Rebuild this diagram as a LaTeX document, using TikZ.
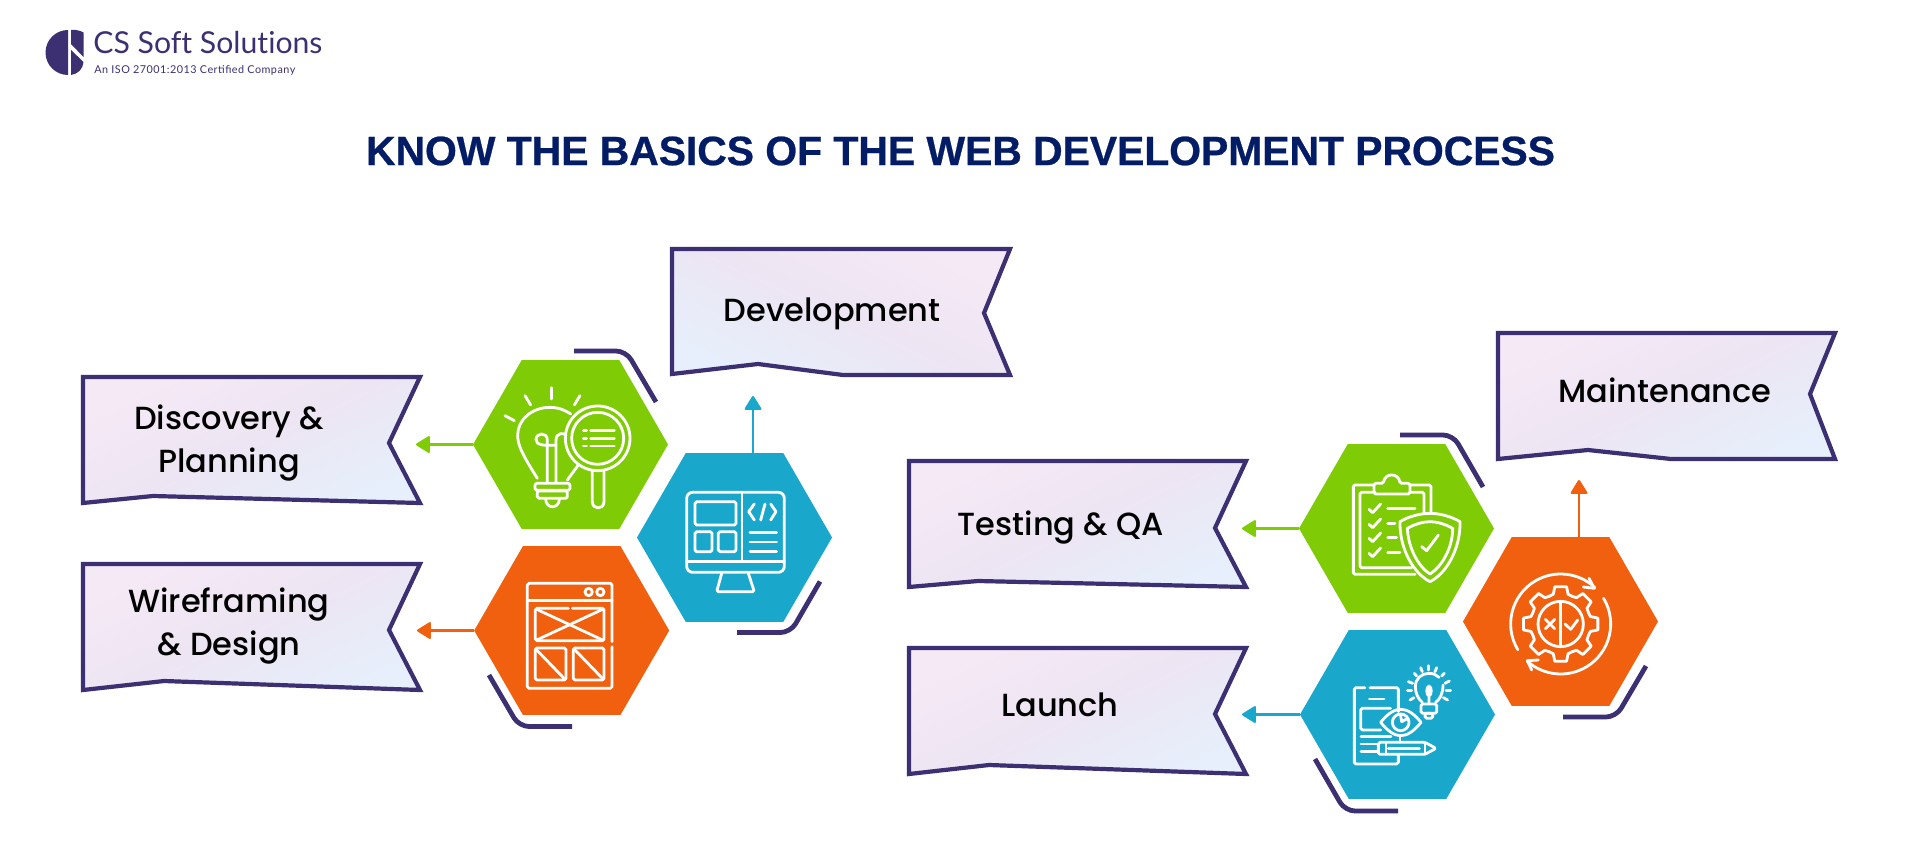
\documentclass[tikz,border=0pt]{standalone}
\usepackage{fontspec}
\usetikzlibrary{shapes.geometric,arrows.meta}
\setmainfont{Poppins}[UprightFont=* Medium,BoldFont=* Bold]
\newfontfamily\titlefont{Liberation Sans}[UprightFont=* Bold,LetterSpace=-0.3,FakeBold=0.6]
\newfontfamily\logofont{Lato}[Ligatures=NoCommon]
\newfontfamily\logotagfont{Lato}[LetterSpace=4.5]
\definecolor{brand}{HTML}{3C3072}
\definecolor{navy}{HTML}{021C66}
\definecolor{hgreen}{HTML}{7FCB05}
\definecolor{hblue}{HTML}{19A8CC}
\definecolor{horange}{HTML}{F0600E}
\definecolor{pinkish}{HTML}{F6E9F6}
\definecolor{midish}{HTML}{EDE5F3}
\definecolor{blueish}{HTML}{E6EFFB}
\tikzset{
 hexa/.style={regular polygon,regular polygon sides=6,minimum size=97.5pt,inner sep=0pt,outer sep=0pt,draw=none},
 ribbon/.style={draw=brand,line width=2.1pt,miter limit=10,top color=pinkish,bottom color=blueish,middle color=midish,shading angle=#1},
 ribbon/.default=25,
 label/.style={font=\fontsize{16}{21.5}\selectfont,align=center,text=black,inner sep=0pt},
 bracket/.style={draw=brand,line width=2.4pt,rounded corners=5pt},
 conn/.style={line width=1.1pt,-{Triangle[length=7.5pt,width=9pt,round,sep=0pt]}},
 ic/.style={draw=white,line width=1.4pt,line cap=round,line join=round,rounded corners=0.8pt},
 icn/.style={draw=white,line width=1.4pt,line cap=round,line join=round}
}
\begin{document}
\begin{tikzpicture}[x=0.5pt,y=-0.5pt]
\useasboundingbox[fill=white] (0,0) rectangle (1920,866);
% logo
\fill[brand] (68,30) arc[start angle=270,end angle=90,radius=22.5] -- cycle;
\fill[brand] (71,30) -- (76,30) .. controls (79,30.5) and (81.5,31.2) .. (83.5,32.5) -- (83.5,57) -- (71,44) -- cycle;
\fill[brand] (71,50) -- (83.5,62) .. controls (83,69) and (78,74) .. (71,75) -- cycle;
\node[font=\logofont\fontsize{15.1}{18}\selectfont,text=brand,anchor=west,inner sep=0pt] (logoname) at (93,43) {CS Soft Solutions};
\node[font=\logotagfont\fontsize{5.4}{7}\selectfont,text=brand,anchor=west,inner sep=0pt] (logotag) at (94,70.5) {An ISO 27001:2013 Certified Company};
% title
\node[font=\titlefont\fontsize{20.5}{25}\selectfont,text=navy,inner sep=0pt] (title) at (960.5,151) {KNOW THE BASICS OF THE WEB DEVELOPMENT PROCESS};
% ribbons
\path[ribbon=25] (83,377) -- (420,377) -- (389,443) -- (420,503) -- (153,496) -- (83,503) -- cycle;
\path[ribbon=25] (83,564) -- (420,564) -- (389,630) -- (420,690) -- (164,681) -- (83,690) -- cycle;
\path[ribbon=-25] (672,249) -- (1010,249) -- (984,313) -- (1010,375) -- (843,375) -- (758,364) -- (672,374) -- cycle;
\path[ribbon=25] (909,461) -- (1246,461) -- (1215,528) -- (1246,587) -- (978,581) -- (909,587) -- cycle;
\path[ribbon=25] (909,648) -- (1246,648) -- (1215,714) -- (1246,774) -- (989,765) -- (909,774) -- cycle;
\path[ribbon=25] (1498,333) -- (1835,333) -- (1810,394) -- (1835,459) -- (1671,459) -- (1588,450) -- (1498,459) -- cycle;
% labels
\node[label] (l1) at (229,443.5) {Discovery \&\\Planning};
\node[label] (l2) at (229,625.5) {Wireframing\\\& Design};
\node[label] (l3) at (832,313.5) {Development};
\node[label] (l4) at (1061,527.5) {Testing \& QA};
\node[label] (l5) at (1060,705) {Launch};
\node[label] (l6) at (1665,390) {Maintenance};
% hexagons
\node[hexa,fill=hgreen] (h1) at (570.5,444.5) {};
\node[hexa,fill=horange] (h2) at (571.7,630.5) {};
\node[hexa,fill=hblue] (h3) at (734.5,537.5) {};
\node[hexa,fill=hgreen] (h4) at (1396.5,528.5) {};
\node[hexa,fill=horange] (h5) at (1560.5,621.5) {};
\node[hexa,fill=hblue] (h6) at (1397.5,714.5) {};
% connector ends
\coordinate (e1) at (416,444.5);
\coordinate (e2) at (417,630.5);
\coordinate (e3) at (753,396);
\coordinate (e4) at (1242,528.5);
\coordinate (e5) at (1579,480);
\coordinate (e6) at (1242,714.5);
\draw[conn,draw=hgreen,fill=hgreen] (h1.west) -- (e1);
\draw[conn,draw=horange,fill=horange] (h2.west) -- (e2);
\draw[conn,draw=hblue,fill=hblue] (h3.north -| e3) -- (e3);
\draw[conn,draw=hgreen,fill=hgreen] (h4.west) -- (e4);
\draw[conn,draw=horange,fill=horange] (h5.north -| e5) -- (e5);
\draw[conn,draw=hblue,fill=hblue] (h6.west) -- (e6);
% brackets
\draw[bracket] (574,351) -- (626,351) -- (656,402);
\draw[bracket] (489,675) -- (519,726.5) -- (572,726.5);
\draw[bracket] (737,632.5) -- (790.5,632.5) -- (820,581.5);
\draw[bracket] (1400,435) -- (1453,435) -- (1483,487);
\draw[bracket] (1563,717) -- (1616,717) -- (1646,666);
\draw[bracket] (1315,759) -- (1345,811) -- (1398,811);
% icon 1: bulb and magnifier
\begin{scope}[shift={(480,350)},scale=1/3]
\draw[icn] (272,192) .. controls (250,177) and (230,172) .. (210,172) .. controls (155,172) and (113,210) .. (113,255) .. controls (113,285) and (125,310) .. (172,385);
\draw[icn] (262,390) -- (295,345);
\draw[ic] (165,400) -- (270,400) -- (270,421) -- (165,421) -- cycle;
\draw[ic] (172,423) -- (262,423) -- (262,445) -- (172,445) -- cycle;
\draw[icn] (197,447) .. controls (197,478) and (238,478) .. (238,447);
\draw[icn] (202,395) -- (202,270) .. controls (202,245) and (168,248) .. (168,268) .. controls (168,285) and (190,288) .. (228,285);
\draw[icn] (228,395) -- (228,270) .. controls (228,248) and (250,248) .. (258,255);
\draw[icn] (353,265) circle[radius=97];
\draw[icn] (353,265) circle[radius=78];
\draw[icn] (337,362) -- (337,455) .. controls (337,480) and (372,480) .. (372,455) -- (372,362);
\foreach \yy in {242,265,288}{\draw[icn] (310,\yy) -- (320,\yy); \draw[icn] (332,\yy) -- (403,\yy);}
\draw[icn] (215,113) -- (215,147);
\draw[icn] (135,137) -- (152,165);
\draw[icn] (300,137) -- (283,165);
\draw[icn] (75,197) -- (103,212);
\end{scope}
% icon 2: wireframe
\begin{scope}[shift={(490,570)},scale=1/3]
\draw[ic] (366,215) -- (366,40) -- (112,40) -- (112,355) -- (366,355) -- (366,230);
\draw[icn] (112,92) -- (366,92);
\draw[icn] (296,66) circle[radius=11];
\draw[icn] (331,66) circle[radius=11];
\draw[ic] (235,115) -- (136,115) -- (136,212) -- (342,212) -- (342,115) -- (247,115);
\draw[icn] (140,118) -- (338,210);
\draw[icn] (338,118) -- (140,210);
\draw[ic] (136,234) rectangle (228,330);
\draw[ic] (250,234) rectangle (342,330);
\draw[icn] (140,240) -- (225,328);
\draw[icn] (255,240) -- (340,328);
\end{scope}
% icon 3: monitor
\begin{scope}[shift={(620,230)},scale=1/3]
\draw[icn,rounded corners=3pt] (200,787) rectangle (493,1027);
\draw[icn] (366,787) -- (366,995);
\draw[icn] (200,995) -- (493,995);
\draw[ic] (225,815) rectangle (348,885);
\draw[ic] (225,905) rectangle (276,965);
\draw[ic] (295,905) rectangle (348,965);
\draw[icn] (403,822) -- (386,845) -- (403,870);
\draw[icn] (435,822) -- (422,870);
\draw[icn] (452,822) -- (468,845) -- (452,870);
\foreach \yy in {907,936,965}{\draw[icn] (390,\yy) -- (470,\yy);}
\draw[ic] (305,1030) -- (290,1085) -- (403,1085) -- (385,1030);
\end{scope}
% icon 4: clipboard and shield
\begin{scope}[shift={(1220,420)},scale=1/3]
\draw[ic] (460,195) -- (400,195) -- (400,463) -- (585,463);
\draw[ic] (570,195) -- (633,195) -- (633,280);
\draw[ic] (465,217) -- (420,217) -- (420,443) -- (575,443);
\draw[ic] (570,217) -- (612,217) -- (612,280);
\draw[ic] (462,190) -- (490,190) .. controls (495,158) and (535,158) .. (540,190) -- (570,190) -- (570,222) -- (462,222) -- cycle;
\foreach \yy in {265,310,352,397}{\draw[icn] (447,\yy+3) -- (458,\yy+13) -- (482,\yy-13);}
\draw[icn] (503,265) -- (585,265);
\draw[icn] (503,310) -- (525,310);
\draw[icn] (503,352) -- (530,352);
\draw[icn] (503,397) -- (540,397);
\draw[icn] (630,280) .. controls (600,280) and (565,290) .. (540,305) .. controls (538,385) and (580,460) .. (630,485) .. controls (680,460) and (722,385) .. (720,305) .. controls (695,290) and (660,280) .. (630,280) -- cycle;
\draw[icn] (630,305) .. controls (610,305) and (585,312) .. (562,325) .. controls (565,385) and (595,440) .. (630,462) .. controls (665,440) and (698,385) .. (698,325) .. controls (675,312) and (650,305) .. (630,305) -- cycle;
\draw[icn] (605,380) -- (620,392) -- (655,345);
\end{scope}
% icon 5: gear
\begin{scope}[shift={(1440,470)},scale=1/3]
\begin{scope}[shift={(362,462)}]
\draw[icn] (149:150) arc[start angle=149,end angle=313,radius=150];
\draw[icn] (329:150) arc[start angle=329,end angle=492,radius=150];
\foreach \a in {0,45,...,315}{
\draw[icn] (\a-22.5:90) -- (\a-14:92) -- (\a-9:113) -- (\a+9:113) -- (\a+14:92) -- (\a+22.5:90);}
\draw[icn] (0,0) circle[radius=68];
\draw[icn] (0,-67) -- (0,67);
\end{scope}
\draw[icn] (447,325) -- (463,355) -- (430,351);
\draw[icn] (275,600) -- (262,572) -- (295,570);
\draw[icn] (316,448) -- (344,476);
\draw[icn] (344,448) -- (316,476);
\draw[icn] (375,462) -- (392,478) -- (413,450);
\end{scope}
% icon 6: doc, eye, pencil, bulb
\begin{scope}[shift={(1260,620)},scale=1/3]
\draw[ic] (315,203) -- (283,203) -- (283,432) -- (415,432) -- (415,405);
\draw[ic] (330,203) -- (415,203) -- (415,275);
\draw[icn] (328,237) -- (372,237);
\draw[ic] (392,265) -- (302,265) -- (302,330) -- (362,330);
\draw[icn] (362,307) .. controls (385,278) and (405,268) .. (422,268) .. controls (440,268) and (460,278) .. (483,307) .. controls (460,336) and (440,347) .. (422,347) .. controls (405,347) and (385,336) .. (362,307) -- cycle;
\draw[icn] (422,307) circle[radius=25];
\draw[icn] (422,287) -- (425,305) -- (440,297);
\draw[icn] (420,347) -- (420,367);
\draw[icn] (303,350) -- (393,350);
\draw[icn] (303,372) -- (350,372);
\draw[icn] (303,395) -- (350,395);
\draw[ic] (355,367) -- (495,367) -- (528,385) -- (495,403) -- (355,403) -- cycle;
\draw[icn] (378,367) -- (378,403);
\draw[icn] (385,385) -- (478,385);
\draw[icn] (495,367) -- (495,403);
\draw[icn] (487,247) .. controls (475,238) and (466,220) .. (466,200) .. controls (466,175) and (485,160) .. (507,160) .. controls (520,160) and (530,165) .. (537,172);
\draw[icn] (527,247) .. controls (540,238) and (549,220) .. (549,195);
\draw[ic] (483,252) rectangle (530,280);
\draw[ic] (495,280) rectangle (518,295);
\draw[icn] (507,252) -- (507,198) .. controls (498,200) and (498,225) .. (507,228) .. controls (516,225) and (516,200) .. (507,198);
\draw[icn] (505,137) -- (505,150);
\draw[icn] (482,143) -- (487,155);
\draw[icn] (530,143) -- (525,155);
\draw[icn] (463,160) -- (470,168);
\draw[icn] (553,160) -- (545,168);
\draw[icn] (445,185) -- (458,190);
\draw[icn] (568,183) -- (555,190);
\draw[icn] (442,212) -- (455,212);
\draw[icn] (572,212) -- (558,212);
\draw[icn] (450,240) -- (462,233);
\draw[icn] (563,240) -- (550,233);
\end{scope}
\end{tikzpicture}
\end{document}
